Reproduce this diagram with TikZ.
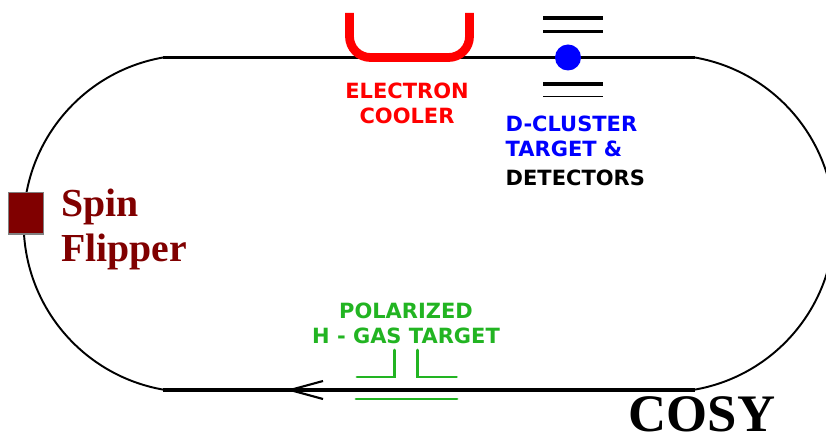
\documentclass[tikz,border=0pt]{standalone}
\usepackage{fontspec}
\setmainfont{DejaVu Sans}
\newfontfamily\serifbold[Scale=1]{Liberation Serif}
\usepackage{xcolor}
\definecolor{coolerred}{RGB}{255,0,0}
\definecolor{targetgreen}{RGB}{34,180,34}
\definecolor{flippermaroon}{RGB}{128,0,0}
\tikzset{
	% labels in the ring
	ringlabel/.style={
		inner sep=0pt,
		align=center,
		font=\fontsize{5.97}{7.15}\selectfont\bfseries
	}, %
	% large serif labels
	biglabel/.style={
		inner sep=0pt,
		align=left,
		font=\fontsize{11.3}{12.8}\selectfont\serifbold\bfseries
	}, %
	beamline/.style={black, line width=0.95pt},
	bendline/.style={black, line width=0.55pt},
	plate/.style={black, line width=0.95pt},
	gasline/.style={targetgreen, line width=0.85pt, line cap=round}
}

\begin{document}
\begin{tikzpicture}
	\useasboundingbox (0,0) rectangle (8.26,4.33);
	\clip (0,0) rectangle (8.26,4.33);

	% ring
	\draw[beamline] (1.63,3.755)--(6.95,3.755);
	\draw[beamline] (1.63,0.43)--(6.95,0.43);
	\draw[bendline] (1.63,3.755) arc [start angle=100, end angle=260, radius=1.686];
	\draw[bendline] (6.95,3.755) arc [start angle=80, end angle=-80, radius=1.686];

	% direction of the beam
	\draw[black, line width=0.6pt] (3.23,0.52)--(2.9,0.43)--(3.23,0.34);

	% cooler
	\draw[coolerred, line width=2.5pt, rounded corners=0.21cm]
		(3.495,4.2)--(3.495,3.755)--(4.695,3.755)--(4.695,4.2);
	\node[ringlabel, coolerred] (cooler) at (4.07,3.3) {ELECTRON\\COOLER};

	% target and detectors
	\draw[plate] (5.43,4.15)--(6.03,4.15);
	\draw[plate] (5.43,4.015)--(6.03,4.015);
	\draw[plate] (5.43,3.49)--(6.03,3.49);
	\draw[black, line width=0.4pt] (5.43,3.365)--(6.03,3.365);
	\fill[blue] (5.68,3.755) circle (0.13);
	\node[ringlabel, blue, align=left, anchor=west] (cluster) at (5.05,2.965) {D-CLUSTER\\TARGET \&};
	\node[ringlabel, black, anchor=base west] (detectors) at (5.05,2.47) {DETECTORS};

	% spin flipper
	\draw[gray, fill=flippermaroon, line width=0.4pt] (0.085,2.405) rectangle (0.435,1.99);
	\node[biglabel, flippermaroon, anchor=west] (flipper) at (0.605,2.035) {Spin\\Flipper};

	% gas target
	\node[ringlabel, targetgreen] (gas) at (4.06,1.1) {POLARIZED\\H - GAS TARGET};
	\draw[gasline] (3.57,0.56)--(3.94,0.56)--(3.94,0.83);
	\draw[gasline] (4.565,0.56)--(4.17,0.56)--(4.17,0.83);
	\draw[gasline] (3.56,0.34)--(4.57,0.34);

	% name
	\node[anchor=base west, inner sep=0pt, font=\fontsize{15}{18}\selectfont\serifbold\bfseries] (cosy) at (6.28,0.02) {COSY};
\end{tikzpicture}
\end{document}
